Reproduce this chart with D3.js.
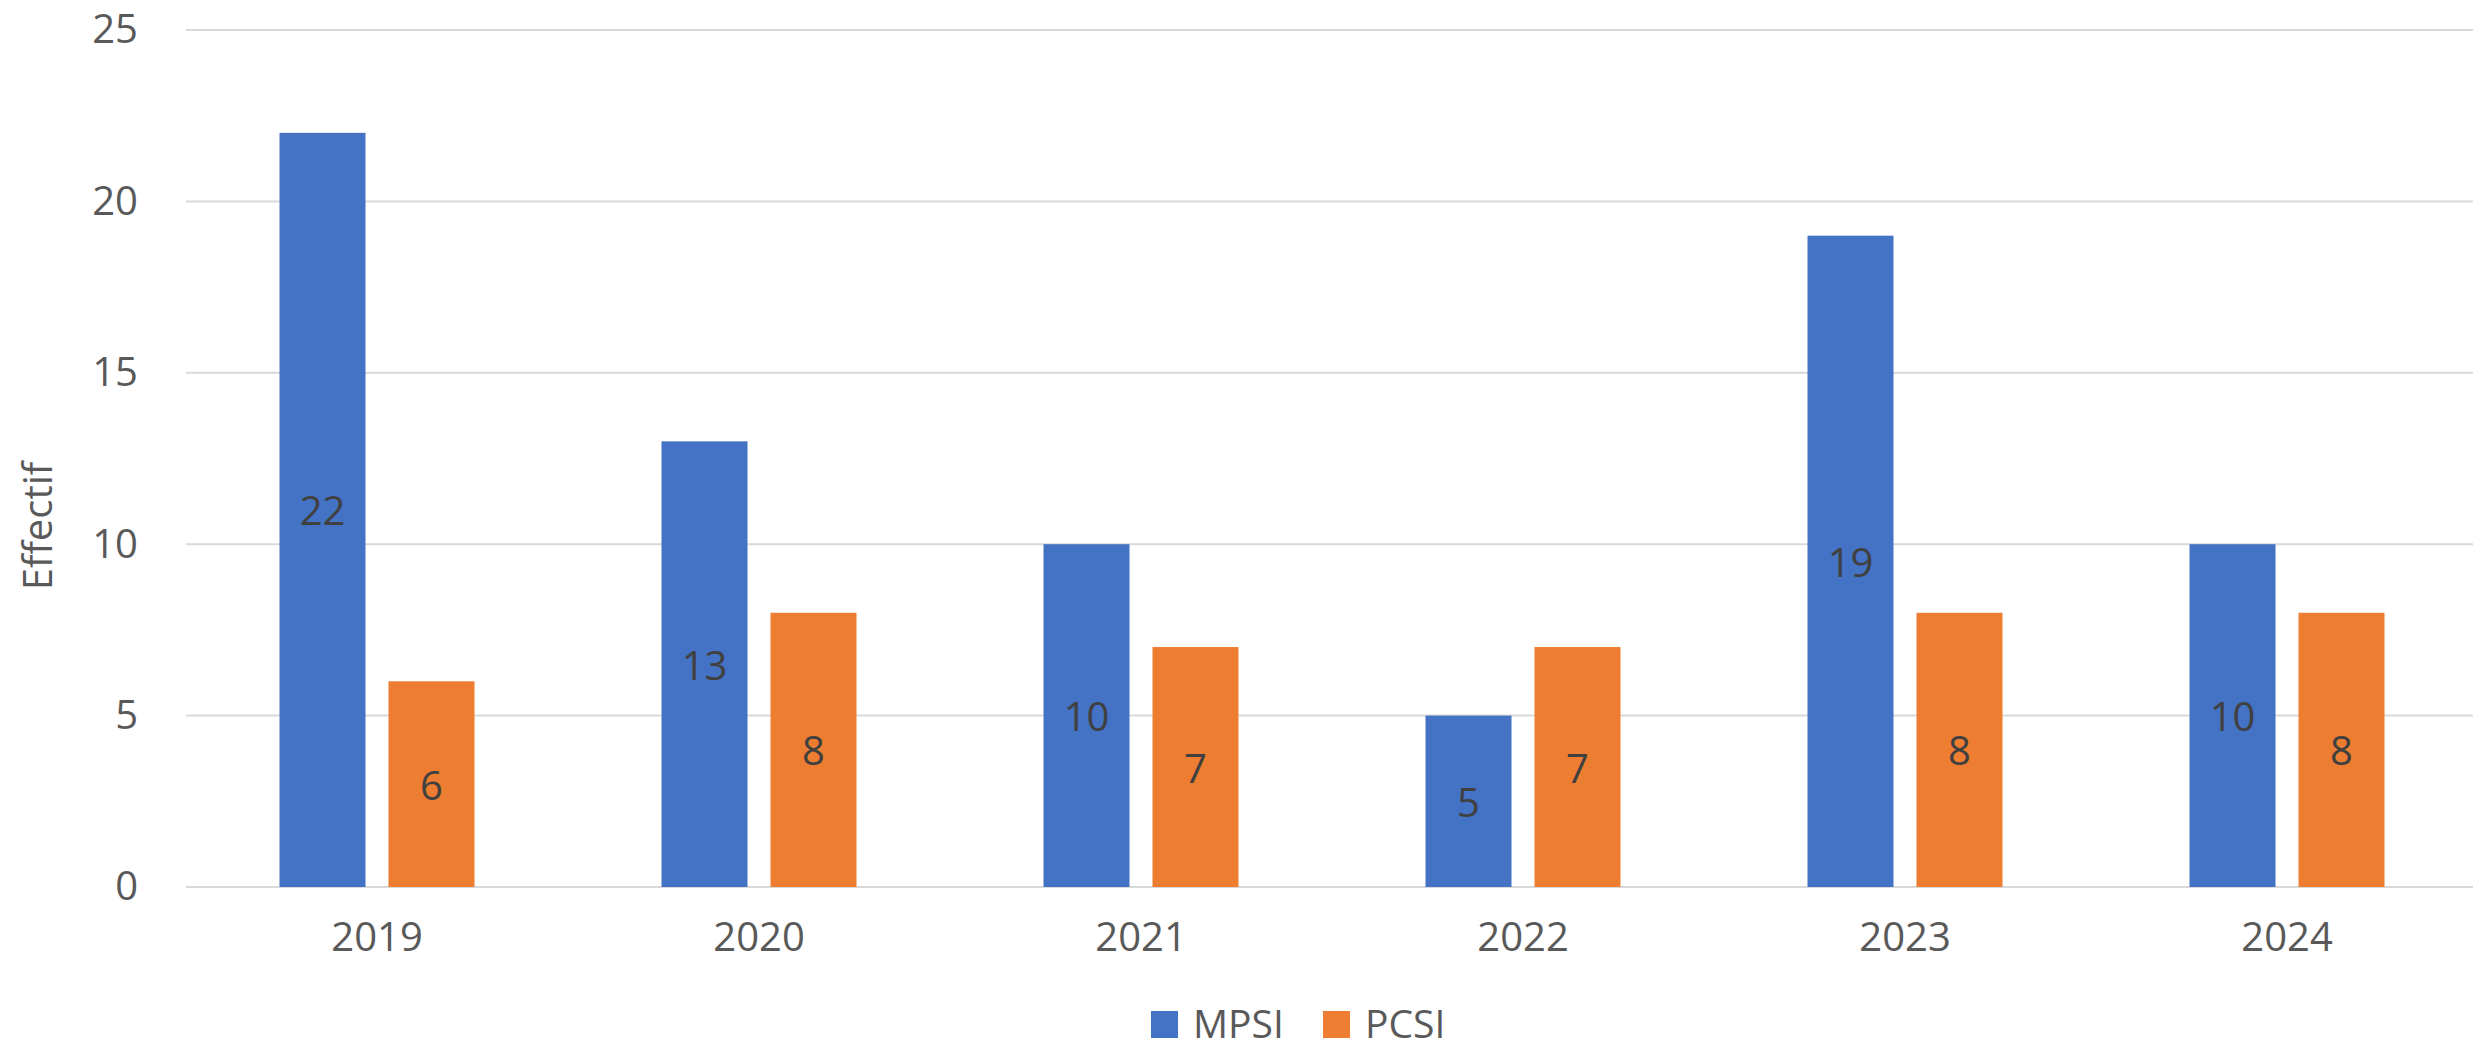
<!DOCTYPE html>
<html><head><meta charset="utf-8">
<script src="https://cdn.jsdelivr.net/npm/d3@7"></script>
<style>html,body{margin:0;padding:0;background:#fff;overflow:hidden}</style>
</head><body>
<svg id="c" width="2473" height="1049"></svg>
<script>
const years = ["2019","2020","2021","2022","2023","2024"];
const mpsi = [22,13,10,5,19,10];
const pcsi = [6,8,7,7,8,8];
const seriesNames = ["MPSI","PCSI"];
const seriesColors = ["#4472C4","#ED7D31"];
const yTicks = [0,5,10,15,20,25];
const yTitle = "Effectif";

(function(){
const svg = d3.select("#c");
const mLeft = 186, mRight = 2478, mTop = 30, mBottom = 887;
const font = "'Open Sans', 'Noto Sans', sans-serif";

const x = d3.scaleBand().domain(years).range([mLeft, mRight]).padding(0);
const y = d3.scaleLinear().domain([0,25]).range([mBottom, mTop]);
const barW = 86, gap = 23;
const inner = d3.scaleOrdinal().domain(seriesNames).range([-(gap/2)-barW, gap/2]);

svg.append("g").selectAll("line").data(yTicks).join("line")
  .attr("x1", mLeft).attr("x2", mRight)
  .attr("y1", d=>y(d)).attr("y2", d=>y(d))
  .attr("stroke", "#D9D9D9").attr("stroke-width", 2);

const ya = svg.append("g").attr("transform", `translate(${mLeft},0)`)
  .call(d3.axisLeft(y).tickValues(yTicks).tickSize(0).tickPadding(48));
ya.select(".domain").remove();
ya.selectAll("text").attr("font-family", font).attr("font-size", 40).attr("fill", "#595959");

const xa = svg.append("g").attr("transform", `translate(0,${mBottom})`)
  .call(d3.axisBottom(x).tickSize(0).tickPadding(36));
xa.select(".domain").remove();
xa.selectAll("text").attr("font-family", font).attr("font-size", 40).attr("fill", "#595959");

const data = [];
years.forEach((yr,i)=>{
  data.push({yr, s:"MPSI", v:mpsi[i]});
  data.push({yr, s:"PCSI", v:pcsi[i]});
});
const color = d3.scaleOrdinal().domain(seriesNames).range(seriesColors);

svg.append("g").selectAll("rect").data(data).join("rect")
  .attr("x", d=>x(d.yr)+x.bandwidth()/2+inner(d.s))
  .attr("width", barW)
  .attr("y", d=>y(d.v))
  .attr("height", d=>y(0)-y(d.v))
  .attr("fill", d=>color(d.s));

svg.append("g").selectAll("text").data(data).join("text")
  .attr("x", d=>x(d.yr)+x.bandwidth()/2+inner(d.s)+barW/2)
  .attr("y", d=>(y(d.v)+y(0))/2)
  .attr("text-anchor","middle").attr("dominant-baseline","central")
  .attr("font-family", font).attr("font-size", 40).attr("fill", "#404040")
  .text(d=>d.v);

svg.append("text")
  .attr("transform", "translate(36,526) rotate(-90)")
  .attr("text-anchor","middle").attr("dominant-baseline","central")
  .attr("font-family", font).attr("font-size", 40).attr("fill", "#595959")
  .text(yTitle);

const legX = [1151, 1323];
const lg = svg.append("g").selectAll("g").data(seriesNames).join("g")
  .attr("transform", (d,i)=>`translate(${legX[i]},1011)`);
lg.append("rect").attr("width",27).attr("height",27).attr("fill", d=>color(d));
lg.append("text").attr("x", 42).attr("y", 27)
  .attr("font-family", font).attr("font-size", 39).attr("fill", "#595959")
  .text(d=>d);
})();
</script>
</body></html>
